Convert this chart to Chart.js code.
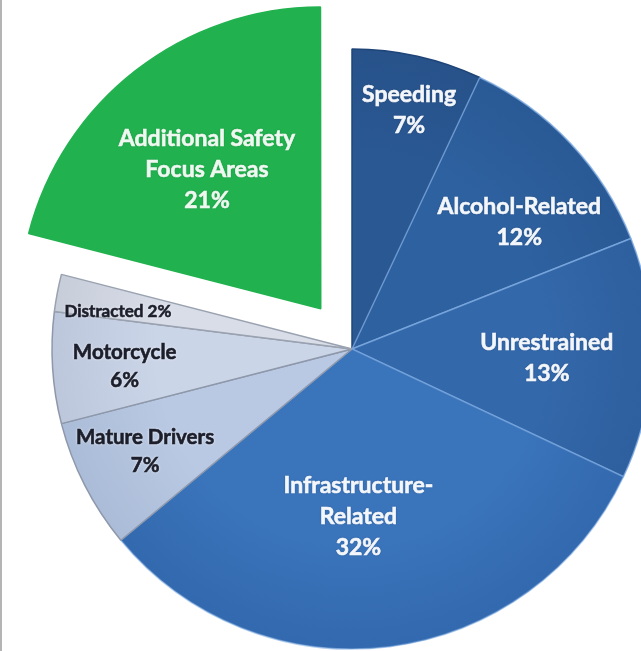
<!DOCTYPE html>
<html>
<head>
<meta charset="utf-8">
<script src="https://cdn.jsdelivr.net/npm/chart.js@4"></script>
<style>
    html, body { margin: 0; padding: 0; background: #ffffff; }
    #wrap { position: relative; width: 641px; height: 651px; overflow: hidden; }
    #edge { position: absolute; left: 0; top: 0; width: 2px; height: 651px; background: #b4b4b4; }
</style>
</head>
<body>
<div id="wrap">
    <canvas id="focusAreasChart"></canvas>
    <div id="edge"></div>
</div>
<script>
Chart.defaults.font.family = "Lato, 'Open Sans', sans-serif"

var categories = ["Speeding", "Alcohol-Related", "Unrestrained", "Infrastructure-Related", "Mature Drivers", "Motorcycle", "Distracted", "Additional Safety Focus Areas"]
var shares = [7, 12, 13, 32, 7, 6, 2, 21]
// how each name is broken over lines inside its slice
var labelLines = [["Speeding"], ["Alcohol-Related"], ["Unrestrained"], ["Infrastructure-", "Related"], ["Mature Drivers"], ["Motorcycle"], ["Distracted"], ["Additional Safety", "Focus Areas"]]

var sliceColors = ["#2a5893", "#2e61a0", "#3368aa", "#3a74bb", "#b9c9e3", "#cbd5e8", "#d8dde8", "#21b24f"]
var rimColors = ["#27528a", "#2a5a95", "#2e5f9e", "#3369ae", "#abbcd8", "#bcc7dc", "#c7cdd9", "#21b24f"]
var borderColors = ["#1f4578", "rgba(125,170,225,0.8)", "rgba(125,170,225,0.8)", "rgba(125,170,225,0.6)", "#8e98aa", "#8e98aa", "#9aa2b0", "#21b24f"]
var textColors = ["#f3f6fa", "#f3f6fa", "#f3f6fa", "#f3f6fa", "#1c1f2b", "#1c1f2b", "#1c1f2b", "#eef8f0"]
var fontSizes = [23, 23, 23, 23, 20.5, 20.5, 17, 23]
var lineHeights = [31, 31, 31, 31, 28, 28, 20, 31]
// label anchor: fraction of the radius and a small turn (degrees) off the mid angle
var labelRadius = [0.82, 0.70, 0.65, 0.56, 0.77, 0.76, 0.79, 0.60]
var labelTurn = [0.8, 6, 1, 5, 0.6, -0.7, -1.8, -1.4]
var sliceOffsets = [0, 0, 0, 0, 0, 0, 0, 204]

const PIE_RADIUS = 300

//slightly darker toward the rim of every slice
function sliceFill(context){
    const chart = context.chart
    const i = context.dataIndex
    const area = chart.chartArea
    if(!area) return sliceColors[i]
    const cx = (area.left + area.right) / 2
    const cy = (area.top + area.bottom) / 2
    const g = chart.ctx.createRadialGradient(cx, cy, 0, cx, cy, PIE_RADIUS)
    g.addColorStop(0, sliceColors[i])
    g.addColorStop(0.65, sliceColors[i])
    g.addColorStop(1, rimColors[i])
    return g
}

//write the names and percentages inside the slices
const sliceLabels = {
    id: "sliceLabels",
    afterDatasetsDraw(chart){
        const ctx = chart.ctx
        const arcs = chart.getDatasetMeta(0).data
        arcs.forEach((arc, i) => {
            const {x, y, startAngle, endAngle, outerRadius} = arc.getProps(["x", "y", "startAngle", "endAngle", "outerRadius"], true)
            const mid = (startAngle + endAngle) / 2
            const shift = sliceOffsets[i] / 4
            const a = mid + labelTurn[i] * Math.PI / 180
            const r = outerRadius * labelRadius[i]
            const px = x + Math.cos(mid) * shift + Math.cos(a) * r
            const py = y + Math.sin(mid) * shift + Math.sin(a) * r

            let lines = labelLines[i].slice()
            if(i === 6){
                lines[0] = lines[0] + " " + shares[i] + "%"
            } else {
                lines.push(shares[i] + "%")
            }
            ctx.save()
            ctx.font = `bold ${fontSizes[i]}px Lato, 'Open Sans', sans-serif`
            ctx.textAlign = "center"
            ctx.textBaseline = "middle"
            ctx.fillStyle = textColors[i]
            ctx.strokeStyle = textColors[i]
            ctx.lineWidth = 0.6
            const dark = textColors[i] === "#1c1f2b"
            const top = py - (lines.length - 1) * lineHeights[i] / 2
            lines.forEach((line, k) => {
                const ly = top + k * lineHeights[i]
                ctx.shadowColor = dark ? "rgba(255,255,255,0.95)" : "rgba(0,0,0,0.3)"
                ctx.shadowBlur = dark ? 3 : 2
                ctx.fillText(line, px, ly)
                ctx.shadowColor = "transparent"
                ctx.strokeText(line, px, ly)
            })
            ctx.restore()
        })
    }
}

new Chart(document.getElementById("focusAreasChart"), {
    type: "pie",
    data: {
        labels: categories,
        datasets: [{
            data: shares,
            backgroundColor: sliceFill,
            borderColor: borderColors,
            borderWidth: 1.5,
            offset: sliceOffsets,
            hoverOffset: 0,
            clip: false
        }]
    },
    options: {
        responsive: true,
        maintainAspectRatio: false,
        animation: false,
        events: [],
        radius: PIE_RADIUS,
        layout: {
            padding: {left: 63, right: 0, top: 47, bottom: 0}
        },
        plugins: {
            legend: {display: false},
            tooltip: {enabled: false}
        }
    },
    plugins: [sliceLabels]
})
</script>
</body>
</html>
